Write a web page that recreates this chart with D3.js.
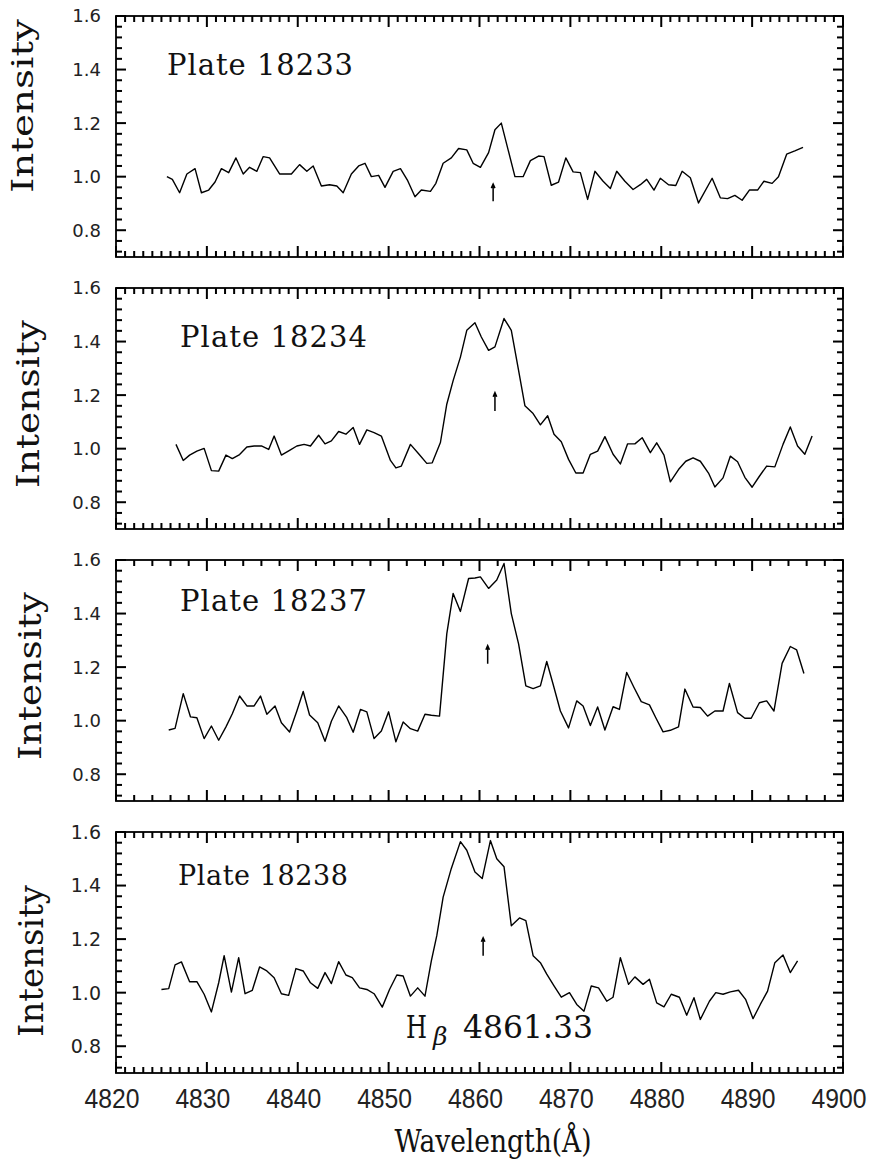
<!DOCTYPE html>
<html><head><meta charset="utf-8">
<script src="https://cdn.jsdelivr.net/npm/d3@7"></script>
<style>body{margin:0;background:#fff}</style>
</head><body>
<svg id="chart" width="873" height="1168"></svg>
<script>
// ---------- DATA ----------
const plateLabels = ["Plate 18233", "Plate 18234", "Plate 18237", "Plate 18238"];

const wl1 = [4825.6,4826.2,4827.0,4827.8,4828.7,4829.4,4830.2,4830.9,4831.6,4832.4,4833.2,4834.0,4834.7,4835.5,4836.2,4836.9,4838.0,4839.3,4840.2,4841.0,4841.7,4842.6,4843.5,4844.3,4845.0,4845.9,4846.7,4847.4,4848.1,4848.9,4849.6,4850.5,4851.3,4852.1,4852.9,4853.6,4854.6,4855.2,4856.0,4856.9,4857.7,4858.6,4859.3,4860.1,4861.0,4861.7,4862.4,4863.9,4864.8,4865.6,4866.5,4867.1,4867.9,4868.7,4869.5,4870.3,4871.1,4871.9,4872.7,4873.6,4874.4,4875.1,4876.0,4876.9,4877.7,4878.4,4879.2,4879.9,4880.8,4881.6,4882.3,4883.2,4884.1,4885.6,4886.5,4887.3,4888.1,4888.9,4889.7,4890.6,4891.3,4892.2,4892.9,4893.8,4894.7,4895.6];
const in1 = [1.00,0.99,0.94,1.01,1.03,0.94,0.95,0.98,1.03,1.015,1.07,1.01,1.035,1.02,1.075,1.07,1.01,1.01,1.045,1.02,1.04,0.965,0.97,0.965,0.94,1.01,1.04,1.05,1.00,1.005,0.96,1.02,1.03,0.985,0.925,0.95,0.945,0.975,1.05,1.07,1.105,1.10,1.05,1.035,1.09,1.175,1.20,1.00,1.00,1.06,1.077,1.075,0.968,0.98,1.07,1.018,1.015,0.915,1.02,0.983,0.956,1.02,0.983,0.952,0.97,0.99,0.95,0.994,0.97,0.967,1.02,0.996,0.902,0.994,0.921,0.918,0.93,0.912,0.95,0.95,0.983,0.975,1.00,1.084,1.096,1.109];

const wl2 = [4826.6,4827.4,4828.1,4828.9,4829.7,4830.5,4831.3,4832.1,4832.8,4833.6,4834.4,4835.2,4836.0,4836.8,4837.4,4838.2,4839.1,4839.9,4840.7,4841.4,4842.3,4843.0,4843.7,4844.5,4845.3,4846.1,4846.8,4847.6,4848.4,4849.2,4850.2,4850.8,4851.4,4852.4,4853.3,4854.2,4854.8,4855.7,4856.4,4857.1,4857.9,4858.6,4859.5,4860.2,4861.0,4861.7,4862.7,4863.5,4864.3,4865.0,4865.9,4866.7,4867.5,4868.2,4869.0,4869.8,4870.6,4871.4,4872.2,4873.0,4873.8,4874.7,4875.5,4876.3,4877.1,4877.9,4878.8,4879.5,4880.3,4881.0,4881.9,4882.7,4883.5,4884.3,4885.2,4885.9,4886.8,4887.6,4888.4,4889.2,4890.0,4890.8,4891.6,4892.5,4893.4,4894.2,4895.0,4895.8,4896.6];
const in2 = [1.016,0.956,0.976,0.991,1.001,0.918,0.916,0.976,0.963,0.978,1.006,1.010,1.010,0.997,1.047,0.976,0.994,1.010,1.016,1.010,1.050,1.018,1.029,1.064,1.054,1.079,1.016,1.070,1.060,1.047,0.956,0.928,0.935,1.016,0.981,0.945,0.947,1.023,1.166,1.254,1.342,1.442,1.470,1.417,1.367,1.380,1.486,1.442,1.292,1.160,1.131,1.089,1.123,1.054,1.026,0.960,0.909,0.909,0.979,0.991,1.045,0.979,0.943,1.018,1.018,1.041,0.985,1.022,0.976,0.876,0.922,0.953,0.966,0.953,0.909,0.857,0.891,0.972,0.951,0.893,0.856,0.897,0.935,0.932,1.016,1.081,1.010,0.979,1.047];

const wl3 = [4825.8,4826.5,4827.4,4828.2,4828.9,4829.7,4830.5,4831.3,4832.1,4832.8,4833.6,4834.4,4835.2,4835.9,4836.6,4837.5,4838.2,4839.1,4839.9,4840.6,4841.3,4842.2,4843.0,4843.7,4844.5,4845.4,4846.1,4846.9,4847.6,4848.4,4849.2,4850.0,4850.8,4851.6,4852.4,4853.2,4854.0,4854.7,4855.6,4856.4,4857.1,4857.9,4858.8,4859.5,4860.1,4861.0,4861.9,4862.7,4863.5,4864.3,4865.1,4865.9,4866.7,4867.4,4868.1,4868.9,4869.8,4870.7,4871.4,4872.2,4873.0,4873.8,4874.7,4875.4,4876.2,4877.0,4877.8,4878.7,4879.4,4880.2,4881.0,4881.9,4882.6,4883.5,4884.3,4885.1,4885.9,4886.8,4887.5,4888.4,4889.2,4889.9,4890.8,4891.6,4892.4,4893.3,4894.2,4894.9,4895.7];
const in3 = [0.965,0.971,1.101,1.014,1.011,0.933,0.980,0.927,0.977,1.026,1.092,1.055,1.055,1.092,1.024,1.055,0.992,0.958,1.036,1.109,1.021,0.992,0.923,0.998,1.055,1.011,0.957,1.042,1.033,0.933,0.961,1.033,0.921,0.995,0.970,0.961,1.024,1.020,1.017,1.324,1.475,1.408,1.531,1.533,1.537,1.494,1.525,1.587,1.400,1.287,1.130,1.120,1.130,1.221,1.136,1.036,0.973,1.074,1.055,0.982,1.051,0.965,1.052,1.042,1.180,1.124,1.071,1.059,1.011,0.958,0.964,0.977,1.118,1.051,1.049,1.017,1.036,1.036,1.139,1.030,1.009,1.009,1.067,1.074,1.036,1.214,1.277,1.264,1.176];

const wl4 = [4825.0,4825.8,4826.5,4827.2,4828.1,4828.9,4829.7,4830.5,4831.3,4831.9,4832.7,4833.5,4834.2,4835.0,4835.8,4836.6,4837.4,4838.2,4839.0,4839.8,4840.6,4841.4,4842.2,4843.0,4843.7,4844.5,4845.3,4846.0,4846.8,4847.6,4848.4,4849.3,4850.1,4850.9,4851.6,4852.4,4853.2,4854.0,4854.7,4855.3,4856.0,4856.9,4857.9,4858.6,4859.5,4860.3,4861.2,4861.9,4862.7,4863.5,4864.4,4865.1,4865.9,4866.7,4867.4,4868.2,4869.0,4869.9,4870.7,4871.5,4872.3,4873.1,4874.0,4874.7,4875.5,4876.4,4877.1,4878.0,4878.7,4879.5,4880.3,4881.1,4882.0,4882.8,4883.6,4884.3,4885.3,4886.0,4886.8,4887.6,4888.5,4889.3,4890.1,4890.9,4891.7,4892.5,4893.4,4894.2,4895.0];
const in4 = [1.012,1.015,1.104,1.115,1.041,1.041,0.994,0.928,1.037,1.138,1.002,1.131,0.996,1.009,1.096,1.081,1.056,0.996,0.990,1.090,1.081,1.037,1.016,1.075,1.034,1.116,1.066,1.056,1.018,1.012,0.996,0.946,1.012,1.066,1.062,0.987,1.018,0.987,1.119,1.213,1.357,1.464,1.564,1.532,1.451,1.426,1.568,1.500,1.470,1.250,1.279,1.269,1.138,1.112,1.069,1.025,0.983,1.000,0.956,0.931,1.025,1.018,0.968,0.983,1.131,1.031,1.059,1.031,1.050,0.962,0.947,0.994,0.983,0.916,0.981,0.900,0.968,1.000,0.994,1.003,1.009,0.974,0.903,0.956,1.006,1.112,1.141,1.075,1.119];

// arrow marks (wavelength, low and high intensity)
const arrowWl = [4861.5, 4861.7, 4860.9, 4860.4];
const arrowLo = [0.908, 1.141, 1.213, 1.138];
const arrowHi = [0.972, 1.209, 1.280, 1.205];

const xTicks = [4820, 4830, 4840, 4850, 4860, 4870, 4880, 4890, 4900];
const xTickLabels = ["4820", "4830", "4840", "4850", "4860", "4870", "4880", "4890", "4900"];
const yTicks = [0.8, 1.0, 1.2, 1.4, 1.6];
const yTickLabels = ["0.8", "1.0", "1.2", "1.4", "1.6"];

const xLabel = "Wavelength(Å)";
const yLabel = "Intensity";
const lineLabelMain = "H";
const lineLabelGreek = "β";
const lineLabelNum = "4861.33";

// ---------- LAYOUT ----------
const series = [[wl1, in1], [wl2, in2], [wl3, in3], [wl4, in4]];
const panelTops = [16, 288, 560, 832];
const panelH = 241;
const left = 116, right = 843;
const minorStep = [1, 1, 2, 1];

const plateText = [
  {x: 167, y: 75, size: 29, len: 186},
  {x: 180, y: 347, size: 29, len: 187},
  {x: 180, y: 611, size: 29, len: 187},
  {x: 178, y: 885, size: 27, len: 170}
];
const yLabelPos = [
  {x: 33, y: 106, size: 30, len: 174},
  {x: 39, y: 404, size: 31, len: 168},
  {x: 41, y: 676, size: 32, len: 168},
  {x: 43, y: 961, size: 33, len: 152}
];

const svg = d3.select("#chart");
svg.append("rect").attr("width", 873).attr("height", 1168).attr("fill", "#fff");

const x = d3.scaleLinear().domain([4820, 4900]).range([left, right]);
const ink = "#000";

series.forEach((s, i) => {
  const top = panelTops[i];
  const bottom = top + panelH;
  const y = d3.scaleLinear().domain([0.7, 1.6]).range([bottom, top]);
  const g = svg.append("g");

  const xMinor = d3.range(4820, 4900.01, minorStep[i]).filter(v => v % 10 !== 0);
  const yMinor = d3.range(18, 41).filter(k => k % 5 !== 0).map(k => +(k * 0.04).toFixed(2));

  // frame
  g.append("rect").attr("x", left).attr("y", top)
    .attr("width", right - left).attr("height", panelH)
    .attr("fill", "none").attr("stroke", ink).attr("stroke-width", 1.8);

  // tick marks as thin filled rects, positions from the scales (inward on all four sides)
  const xt = [...xMinor.map(v => [v, 6]), ...xTicks.map(v => [v, 11])];
  const yt = [...yMinor.map(v => [v, 6]), ...yTicks.map(v => [v, 10])];
  const tg = g.append("g").attr("fill", ink);
  tg.selectAll("rect.xb").data(xt).join("rect").attr("class", "xb")
    .attr("x", d => x(d[0]) - 1).attr("width", 2)
    .attr("y", d => bottom - d[1]).attr("height", d => d[1]);
  tg.selectAll("rect.xt").data(xt).join("rect").attr("class", "xt")
    .attr("x", d => x(d[0]) - 1).attr("width", 2)
    .attr("y", top).attr("height", d => d[1]);
  tg.selectAll("rect.yl").data(yt).join("rect").attr("class", "yl")
    .attr("y", d => y(d[0]) - 1).attr("height", 2)
    .attr("x", left).attr("width", d => d[1]);
  tg.selectAll("rect.yr").data(yt).join("rect").attr("class", "yr")
    .attr("y", d => y(d[0]) - 1).attr("height", 2)
    .attr("x", d => right - d[1]).attr("width", d => d[1]);

  // y tick labels
  g.append("g").selectAll("text").data(yTicks).join("text")
    .attr("x", left - 15).attr("y", d => y(d)).attr("dy", "0.36em")
    .attr("text-anchor", "end")
    .attr("font-family", "DejaVu Sans, sans-serif")
    .attr("font-size", i === 3 ? 19 : 18).attr("fill", "#222")
    .text((d, k) => yTickLabels[k]);

  // x tick labels on last panel
  if (i === 3) {
    g.append("g").selectAll("text").data(xTicks).join("text")
      .attr("x", d => x(d) - 4).attr("y", bottom + 35)
      .attr("text-anchor", "middle")
      .attr("font-family", "Liberation Sans, Arial, sans-serif")
      .attr("font-size", 27).attr("fill", "#222")
      .attr("textLength", 55).attr("lengthAdjust", "spacingAndGlyphs")
      .text((d, k) => xTickLabels[k]);
  }

  // spectrum
  const pts = s[0].map((w, k) => [w, s[1][k]]);
  g.append("path").datum(pts)
    .attr("fill", "none").attr("stroke", ink).attr("stroke-width", 1.4)
    .attr("stroke-linejoin", "round")
    .attr("d", d3.line().x(d => x(d[0])).y(d => y(d[1])));

  // arrow mark
  const ax = x(arrowWl[i]), ay0 = y(arrowLo[i]), ay1 = y(arrowHi[i]);
  g.append("path")
    .attr("d", `M${ax},${ay0}L${ax},${ay1}M${ax - 1.8},${ay1 + 4}L${ax},${ay1}L${ax + 1.8},${ay1 + 4}`)
    .attr("fill", "none").attr("stroke", ink).attr("stroke-width", 1.5);

  // plate label
  const p = plateText[i];
  g.append("text").attr("x", p.x).attr("y", p.y)
    .attr("font-family", "DejaVu Serif, serif").attr("font-size", p.size)
    .attr("fill", "#111").attr("textLength", p.len).attr("lengthAdjust", "spacing")
    .text(plateLabels[i]);

  // y label
  const q = yLabelPos[i];
  svg.append("text")
    .attr("transform", `translate(${q.x},${q.y}) rotate(-90)`)
    .attr("text-anchor", "middle")
    .attr("font-family", "DejaVu Serif, serif").attr("font-size", q.size)
    .attr("fill", "#111").attr("textLength", q.len).attr("lengthAdjust", "spacingAndGlyphs")
    .text(yLabel);
});

// H-beta label
const hb = svg.append("text").attr("y", 1038)
  .attr("font-family", "DejaVu Serif, serif").attr("font-size", 31).attr("fill", "#111");
hb.append("tspan").attr("x", 406).attr("textLength", 21).attr("lengthAdjust", "spacingAndGlyphs").text(lineLabelMain);
hb.append("tspan").attr("x", 433).attr("dy", 7).attr("font-size", 25).attr("font-style", "italic").text(lineLabelGreek);
hb.append("tspan").attr("x", 463).attr("dy", -7).attr("textLength", 130).attr("lengthAdjust", "spacingAndGlyphs").text(lineLabelNum);

// x label
svg.append("text").attr("x", 493).attr("y", 1152).attr("text-anchor", "middle")
  .attr("font-family", "DejaVu Serif, serif").attr("font-size", 31).attr("fill", "#111")
  .attr("textLength", 197).attr("lengthAdjust", "spacingAndGlyphs")
  .text(xLabel);
</script>
</body></html>
